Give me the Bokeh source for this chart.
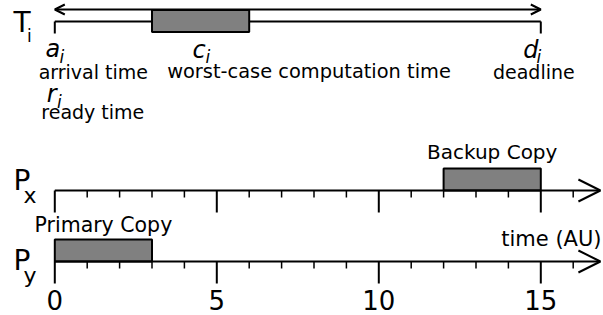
from bokeh.plotting import figure
from bokeh.models import Range1d, Arrow, OpenHead, ColumnDataSource
from bokeh.core.properties import value
from bokeh.embed import file_html
from bokeh.resources import INLINE

# ---------------- data ----------------
arrival_time = 0
computation = [3, 6]          # worst-case computation window shown on T_i
deadline = 15
primary_copy = [0, 3]         # on P_y
backup_copy = [12, 15]        # on P_x
time_end = 16.84              # end of time arrows
major_ticks = [0, 5, 10, 15]
tick_labels = ["0", "5", "10", "15"]
minor_ticks = [1, 2, 3, 4, 6, 7, 8, 9, 11, 12, 13, 14, 16]

# ---------------- layout (screen-ish units) ----------------
PX_PER_UNIT = 32.4
ZERO_PX = 54.3
W, H = 603, 315
x0 = (0 - ZERO_PX) / PX_PER_UNIT
x1 = x0 + W / PX_PER_UNIT

Y_TI_ARROW, Y_TI_LINE = 9, 21
Y_PX, Y_PY = 190, 261
BOX_H = 22
MAJOR_LEN, MINOR_LEN = 22, 7
FONT = value("DejaVu Sans")
GRAY = "#808080"
BASELINE_FIX = 0.37

p = figure(width=W, height=H, x_range=Range1d(x0, x1), y_range=Range1d(H, 0),
           output_backend="svg", toolbar_location=None,
           x_axis_type=None, y_axis_type=None, min_border=0,
           outline_line_color=None, background_fill_color="white")
p.xgrid.visible = False
p.ygrid.visible = False


def px(page_x):
    return (page_x - ZERO_PX) / PX_PER_UNIT


def txt(x, y, s, size, align="left", style="normal", dx=0):
    p.text(x=[x], y=[y - BASELINE_FIX * size], text=[s], text_font=FONT,
           text_font_size=value(f"{size}px"),
           text_font_style=style, text_align=align, text_baseline="alphabetic",
           x_offset=dx, text_color="black")


# ---------------- T_i ----------------
p.segment(x0=[arrival_time], y0=[Y_TI_LINE], x1=[deadline], y1=[Y_TI_LINE],
          line_color="black", line_width=2)
p.segment(x0=[arrival_time, deadline], y0=[Y_TI_LINE] * 2,
          x1=[arrival_time, deadline], y1=[Y_TI_LINE + 12] * 2,
          line_color="black", line_width=2)
p.quad(left=[computation[0]], right=[computation[1]],
       top=[Y_TI_ARROW + 0.5], bottom=[Y_TI_ARROW + 0.5 + BOX_H],
       fill_color=GRAY, line_color="black", line_width=2)
p.add_layout(Arrow(start=OpenHead(size=10, line_width=2, line_color="black"),
                   end=OpenHead(size=10, line_width=2, line_color="black"),
                   x_start=arrival_time, y_start=Y_TI_ARROW,
                   x_end=deadline, y_end=Y_TI_ARROW,
                   line_width=2, line_color="black"))

txt(px(13), 32, "T", 28)
txt(px(26.5), 42, "i", 17)

txt(arrival_time, 57.5, "a", 24, align="center", style="italic", dx=-2)
txt(px(59), 63, "i", 17, style="italic")
txt(arrival_time, 78.5, "arrival time", 19, align="center", dx=38.5)
txt(arrival_time, 102, "r", 24, align="center", style="italic", dx=-3)
txt(px(56.5), 108, "i", 17, style="italic")
txt(arrival_time, 119, "ready time", 19, align="center", dx=38)

txt(computation[0], 58, "c", 24, align="center", style="italic", dx=47)
txt(px(205), 63, "i", 17, style="italic")
txt(computation[0], 78.5, "worst-case computation time", 19.4, align="center", dx=157)

txt(deadline, 58, "d", 24, align="center", style="italic", dx=-10)
txt(px(536), 63, "i", 17, style="italic")
txt(deadline, 78.5, "deadline", 19, align="center", dx=-7)

# ---------------- P_x and P_y ----------------
for yl in (Y_PX, Y_PY):
    p.add_layout(Arrow(end=OpenHead(size=22, line_width=2, line_color="black"),
                       x_start=0, y_start=yl, x_end=time_end, y_end=yl,
                       line_width=2, line_color="black"))
    p.segment(x0=major_ticks, y0=[yl] * len(major_ticks), x1=major_ticks,
              y1=[yl + MAJOR_LEN] * len(major_ticks), line_color="black", line_width=2)
    p.segment(x0=minor_ticks, y0=[yl] * len(minor_ticks), x1=minor_ticks,
              y1=[yl + MINOR_LEN] * len(minor_ticks), line_color="black", line_width=1.5)

p.quad(left=[backup_copy[0]], right=[backup_copy[1]], top=[Y_PX - BOX_H], bottom=[Y_PX],
       fill_color=GRAY, line_color="black", line_width=2)
p.quad(left=[primary_copy[0]], right=[primary_copy[1]], top=[Y_PY - BOX_H], bottom=[Y_PY],
       fill_color=GRAY, line_color="black", line_width=2)

txt((backup_copy[0] + backup_copy[1]) / 2, 159, "Backup Copy", 20, align="center")
txt((primary_copy[0] + primary_copy[1]) / 2, 232.5, "Primary Copy", 20.5, align="center")
txt(px(601), 246.5, "time (AU)", 21, align="right")

txt(px(13), Y_PX, "P", 28)
txt(px(23), 203, "x", 22)
txt(px(13), 270, "P", 28)
txt(px(23), 283, "y", 22)

src = ColumnDataSource(dict(x=major_ticks, y=[309 - BASELINE_FIX * 26] * len(major_ticks),
                            t=tick_labels))
p.text(x="x", y="y", text="t", source=src, text_font=FONT, text_font_size=value("26px"),
       text_align="center", text_baseline="alphabetic", text_color="black")

open("out.html", "w").write(file_html(p, INLINE))
